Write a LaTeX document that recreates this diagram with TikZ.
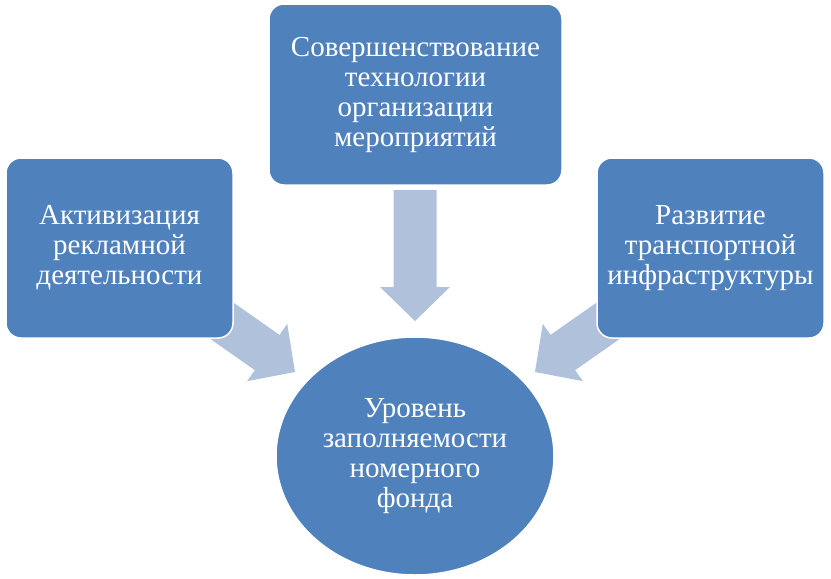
\documentclass[tikz,border=0pt]{standalone}
\usepackage{fontspec}
\setmainfont{Liberation Serif}
\newfontfamily\tnrfont{Liberation Serif}
\usetikzlibrary{shapes.geometric}
\definecolor{boxblue}{HTML}{4F81BD}
\definecolor{arrowblue}{HTML}{B0C1DC}
\begin{document}
\begin{tikzpicture}[x=1pt,y=1pt,
  blockbox/.style={draw=white, line width=1.5pt, fill=boxblue, rounded corners=15pt,
    inner sep=0pt, align=center, text=white,
    font=\tnrfont\fontsize{29}{30}\selectfont},
  roundbox/.style={ellipse, draw=white, line width=1.5pt, fill=boxblue,
    inner sep=0pt, align=center, text=white,
    font=\tnrfont\fontsize{29}{30}\selectfont},
  blockarrow/.style={fill=arrowblue, draw=none}]
\useasboundingbox (0,0) rectangle (831,-579);
% block arrows (drawn first, under the boxes)
\newcommand{\myblockarrow}[3]{%
  \begin{scope}[shift={(#1,#2)}, rotate=#3]
    \fill[blockarrow] (-131,21.5) -- (-34,21.5) -- (-34,35) -- (0,0)
      -- (-34,-35) -- (-34,-21.5) -- (-131,-21.5) -- cycle;
  \end{scope}}
\myblockarrow{415}{-321}{-90}
\myblockarrow{295}{-372}{-35}
\myblockarrow{535}{-372}{-145}
% boxes
\node[blockbox, minimum width=293pt, minimum height=181pt] (top) at (415.5,-94.5)
  {Совершенствование\\технологии\\организации\\мероприятий};
\node[blockbox, minimum width=227pt, minimum height=180pt] (left) at (119.5,-248)
  {Активизация\\рекламной\\деятельности};
\node[blockbox, minimum width=227pt, minimum height=180pt] (right) at (710.5,-248)
  {Развитие\\транспортной\\инфраструктуры};
\node[roundbox, minimum width=278pt, minimum height=238pt] (goal) at (415,-456)
  {Уровень\\заполняемости\\номерного\\фонда};
\end{tikzpicture}
\end{document}
